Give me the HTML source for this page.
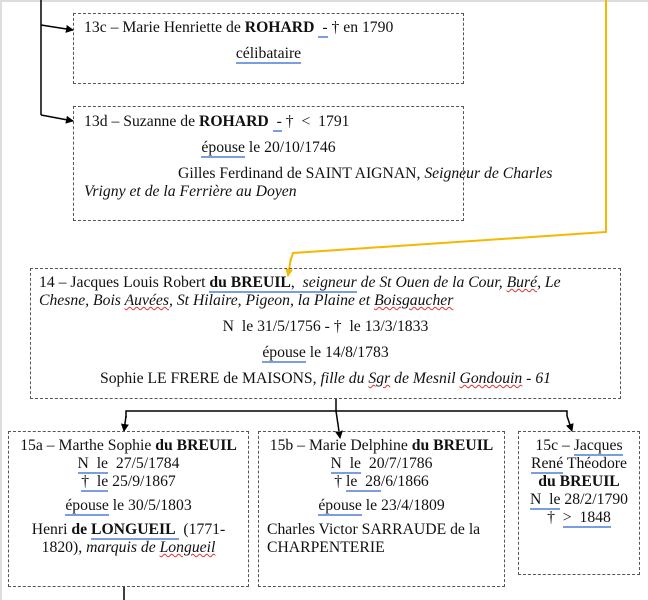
<!DOCTYPE html>
<html><head><meta charset="utf-8"><style>
body{margin:0;width:648px;height:600px;background:#fff;position:relative;overflow:hidden;font-family:"Liberation Serif",serif;font-size:15.7px;color:#111}
.b{position:absolute;border:1px dashed #555;box-sizing:border-box;line-height:18px}
.c{text-align:center}
u{text-decoration:none;border-bottom:2px solid #7a9ee0}
.r{text-decoration:underline wavy #d33;text-decoration-thickness:1px}
p{margin:0;white-space:nowrap}
</style></head><body>
<div style="position:absolute;left:0;top:0;width:2px;height:600px;background:#ddd"></div>
<div style="position:absolute;left:0;top:0;width:648px;height:2px;background:#ddd"></div>
<svg width="648" height="600" style="position:absolute;left:0;top:0">
<defs><marker id="a" markerWidth="8" markerHeight="8" refX="7" refY="4" orient="auto" markerUnits="userSpaceOnUse"><path d="M0,0 L8,4 L0,8z" fill="#000"/></marker>
<marker id="y" markerWidth="8" markerHeight="8" refX="7" refY="4" orient="auto" markerUnits="userSpaceOnUse"><path d="M0,0 L8,4 L0,8z" fill="#f5b800"/></marker></defs>
<g stroke="#000" stroke-width="1.5" fill="none">
<line x1="41" y1="0" x2="41" y2="115"/>
<line x1="41" y1="25" x2="73" y2="30" marker-end="url(#a)"/>
<line x1="41" y1="115" x2="73" y2="121" marker-end="url(#a)"/>
<line x1="336" y1="399" x2="336" y2="411"/>
<polyline points="126,418 126,411 567,411 567,416"/>
<line x1="126" y1="416" x2="124" y2="431" marker-end="url(#a)"/>
<line x1="336" y1="411" x2="340" y2="438" marker-end="url(#a)"/>
<line x1="567" y1="416" x2="572" y2="431" marker-end="url(#a)"/>
<line x1="124" y1="587" x2="124" y2="600"/>
</g>
<polyline points="606,0 606,232 293,253 290,262" stroke="#f5b800" stroke-width="2" fill="none"/>
<line x1="291" y1="258" x2="288" y2="276" stroke="#f5b800" stroke-width="2" marker-end="url(#y)"/>
</svg>
<div class="b" style="left:73px;top:13px;width:391px;height:71px;padding:5px 10px">
<p>13c – Marie Henriette de <b>ROHARD</b> <u>&nbsp;-</u> † en 1790</p>
<p class="c" style="margin-top:8px"><u>célibataire</u></p></div>
<div class="b" style="left:73px;top:106px;width:391px;height:115px;padding:6px 10px">
<p>13d – Suzanne de <b>ROHARD</b> <u>&nbsp;-</u> † &nbsp;&lt; &nbsp;1791</p>
<p class="c" style="margin-top:8px"><u>épouse</u> le 20/10/1746</p>
<p style="margin-top:8px;padding-left:94px">Gilles Ferdinand de SAINT AIGNAN, <i>Seigneur de Charles</i></p>
<p><i>Vrigny et de la Ferrière au Doyen</i></p></div>
<div class="b" style="left:30px;top:268px;width:591px;height:131px;padding:5px 8px">
<p>14 – Jacques Louis Robert <b><u>du BREUIL</u></b><u>, &nbsp;<i>seigneur</i></u> <i>de St Ouen de la Cour, <span class="r">Buré</span>, Le</i></p>
<p><i>Chesne, Bois <span class="r">Auvées</span>, St Hilaire, Pigeon, la Plaine et <span class="r">Boisgaucher</span></i></p>
<p class="c" style="margin-top:8px">N &nbsp;le 31/5/1756 - † &nbsp;le 13/3/1833</p>
<p class="c" style="margin-top:8px"><u>épouse</u> le 14/8/1783</p>
<p class="c" style="margin-top:8px">Sophie LE FRERE de MAISONS, <i>fille du <span class="r">Sgr</span> de Mesnil <span class="r">Gondouin</span> - 61</i></p></div>
<div class="b c" style="left:8px;top:431px;width:241px;height:156px;padding:5px 2px">
<p>15a – Marthe Sophie <b>du BREUIL</b></p>
<p><u>N &nbsp;le</u> &nbsp;27/5/1784</p><p><u>† &nbsp;le</u> 25/9/1867</p>
<p style="margin-top:6px"><u>épouse</u> le 30/5/1803</p>
<p style="margin-top:6px">Henri <b>de <u>LONGUEIL</u></b><u>&nbsp;</u> (1771-</p>
<p>1820), <i>marquis de <span class="r">Longueil</span></i></p></div>
<div class="b" style="left:258px;top:431px;width:247px;height:156px;padding:5px 8px">
<p class="c">15b – Marie Delphine <b>du BREUIL</b></p>
<p class="c"><u>N &nbsp;le</u> &nbsp;20/7/1786</p><p class="c">† <u>le &nbsp;28</u>/6/1866</p>
<p class="c" style="margin-top:6px"><u>épouse</u> le 23/4/1809</p>
<p style="margin-top:6px">Charles Victor SARRAUDE de la</p><p>CHARPENTERIE</p></div>
<div class="b c" style="left:518px;top:431px;width:122px;height:144px;padding:5px 2px">
<p>15c – <u>Jacques</u></p><p><u>René</u> Théodore</p><p><b>du BREUIL</b></p>
<p><u>N &nbsp;le</u> 28/2/1790</p><p>† &nbsp;<u>&gt; &nbsp;1848</u></p></div>
</body></html>
